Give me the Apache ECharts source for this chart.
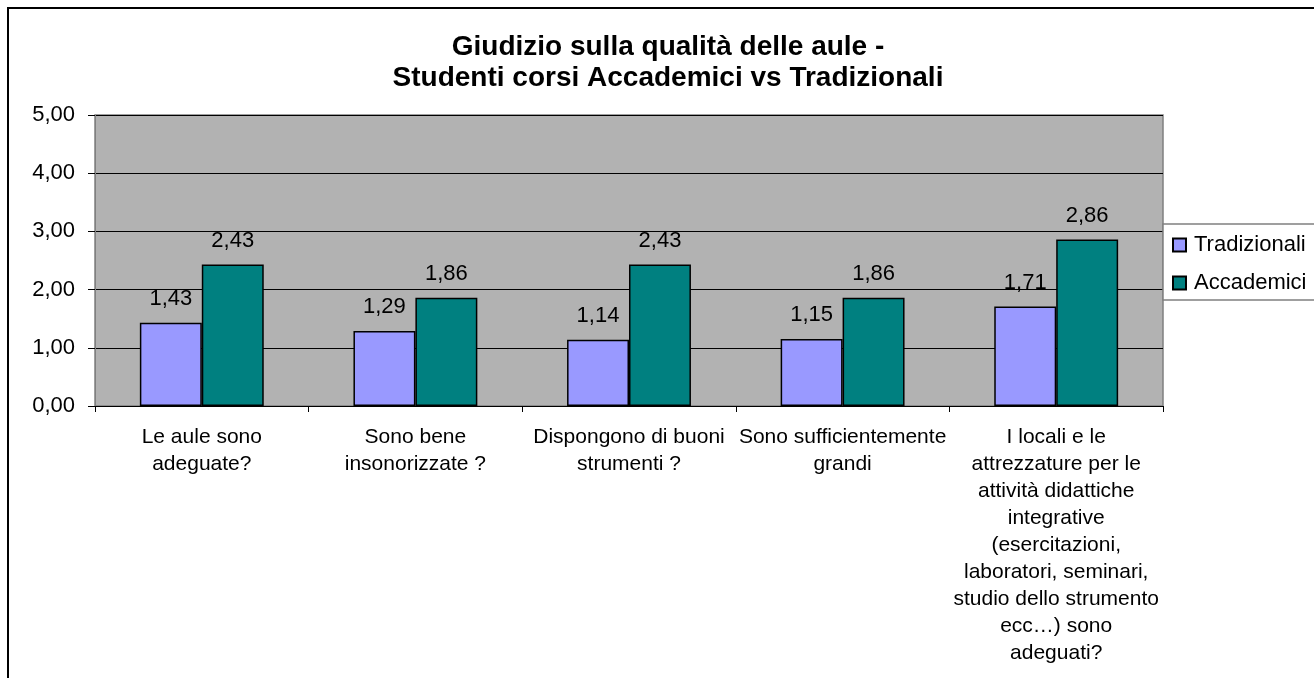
<!DOCTYPE html>
<html>
<head>
<meta charset="utf-8">
<script src="https://cdn.jsdelivr.net/npm/echarts@6/dist/echarts.min.js"></script>
<style>html,body{margin:0;padding:0;background:#fff}#c{width:1314px;height:678px}</style>
</head>
<body>
<div id="c"></div>
<script>
const titleLines = ["Giudizio sulla qualità delle aule -", "Studenti corsi Accademici vs Tradizionali"];
const categories = [
  "Le aule sono\nadeguate?",
  "Sono bene\ninsonorizzate ?",
  "Dispongono di buoni\nstrumenti ?",
  "Sono sufficientemente\ngrandi",
  "I locali e le\nattrezzature per le\nattività didattiche\nintegrative\n(esercitazioni,\nlaboratori, seminari,\nstudio dello strumento\necc…) sono\nadeguati?"
];
const seriesNames = ["Tradizionali", "Accademici"];
const tradizionali = [1.43, 1.29, 1.14, 1.15, 1.71];
const accademici = [2.43, 1.86, 2.43, 1.86, 2.86];
const yMin = 0, yMax = 5, yStep = 1;

const FONT = "'Liberation Sans', Arial, sans-serif";
const fmt = v => Number(v).toFixed(2).replace('.', ',');

const chart = echarts.init(document.getElementById('c'), null, {renderer: 'canvas'});
chart.setOption({
  animation: false,
  backgroundColor: '#fff',
  textStyle: {fontFamily: FONT},
  graphic: [
    {type: 'rect', silent: true, z: -10,
      shape: {x: 8, y: 8, width: 1400, height: 800},
      style: {fill: 'none', stroke: '#000', lineWidth: 2}},
    {type: 'text', silent: true,
      style: {text: titleLines.join('\n'), x: 668, y: 32, textAlign: 'center', textVerticalAlign: 'top',
        font: "bold 28px " + FONT, lineHeight: 31, fill: '#000'}}
  ],
  legend: {
    orient: 'vertical', left: 1163, top: 224,
    padding: [10, 30, 6, 9], itemGap: 16,
    itemWidth: 13, itemHeight: 13,
    backgroundColor: '#fff', borderColor: '#808080', borderWidth: 1.5, borderRadius: 0,
    icon: 'rect',
    textStyle: {fontFamily: FONT, fontSize: 22, color: '#000', padding: [0, 0, 0, 3]},
    data: seriesNames
  },
  grid: {left: 95, right: 151, top: 115, bottom: 272, show: true,
    backgroundColor: '#B2B2B2', borderColor: '#808080', borderWidth: 1.5},
  xAxis: {
    type: 'category', data: categories,
    axisLine: {lineStyle: {color: '#000', width: 1}},
    axisTick: {show: true, length: 6, lineStyle: {color: '#000'}},
    axisLabel: {interval: 0, margin: 18, fontFamily: FONT, fontSize: 21, lineHeight: 27, color: '#000', align: 'center'}
  },
  yAxis: {
    type: 'value', min: yMin, max: yMax, interval: yStep,
    axisLine: {show: true, lineStyle: {color: '#808080', width: 1}},
    axisTick: {show: true, length: 7, lineStyle: {color: '#000'}},
    axisLabel: {margin: 20, fontFamily: FONT, fontSize: 22, color: '#000', formatter: fmt},
    splitLine: {lineStyle: {color: '#000', width: 1}}
  },
  series: [
    {name: seriesNames[0], type: 'bar', data: tradizionali, barGap: '0%', barCategoryGap: '42%',
      itemStyle: {color: '#9999FF', borderColor: '#000', borderWidth: 1.5},
      label: {show: true, position: 'top', distance: 13, fontFamily: FONT, fontSize: 22, color: '#000', formatter: p => fmt(p.value)}},
    {name: seriesNames[1], type: 'bar', data: accademici, barGap: '0%', barCategoryGap: '42%',
      itemStyle: {color: '#008080', borderColor: '#000', borderWidth: 1.5},
      label: {show: true, position: 'top', distance: 13, fontFamily: FONT, fontSize: 22, color: '#000', formatter: p => fmt(p.value)}}
  ]
});
</script>
</body>
</html>
